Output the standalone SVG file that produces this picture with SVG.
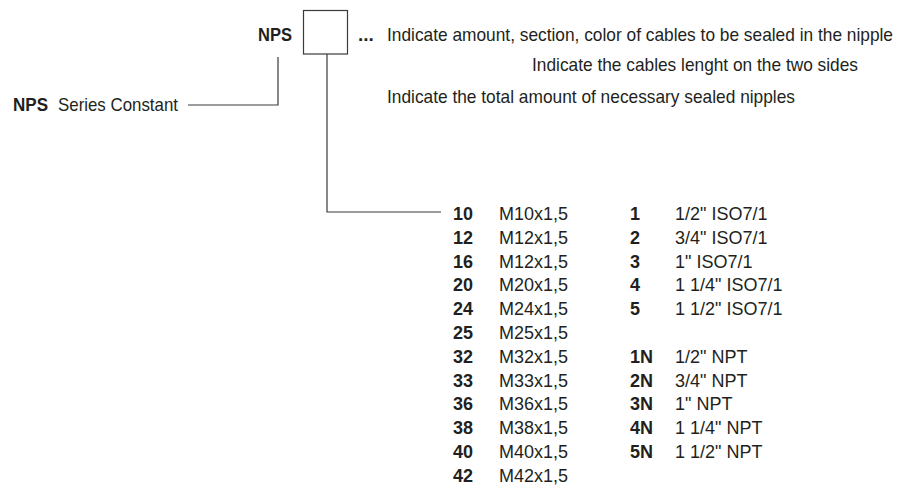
<svg xmlns="http://www.w3.org/2000/svg" width="900" height="487" viewBox="0 0 900 487">
<style>
.t{font-family:"Liberation Sans",Arial,sans-serif;fill:#231f20;}
.b{font-weight:bold;}
.u{font-size:19px;}
.tb{font-size:18px;}
.ln{fill:none;stroke:#3a3a3a;stroke-width:1.2;}
</style>
<rect width="900" height="487" fill="#ffffff"/>
<g id="connectors">
<polyline class="ln" points="278,57 278,105 188,105"/>
<polyline class="ln" points="327,54 327,212 441,212"/>
</g>
<g id="node-code">
<text class="t b u" x="258" y="41" textLength="34" lengthAdjust="spacingAndGlyphs">NPS</text>
<rect class="ln" x="303.5" y="10.5" width="44" height="43.5" fill="#ffffff"/>
</g>
<g id="node-notes">
<text class="t b u" x="358" y="41">...</text>
<text class="t u" x="387" y="41" textLength="506" lengthAdjust="spacingAndGlyphs">Indicate amount, section, color of cables to be sealed in the nipple</text>
<text class="t u" x="532" y="71" textLength="326" lengthAdjust="spacingAndGlyphs">Indicate the cables lenght on the two sides</text>
<text class="t u" x="387" y="103" textLength="408" lengthAdjust="spacingAndGlyphs">Indicate the total amount of necessary sealed nipples</text>
</g>
<g id="node-constant">
<text class="t b u" x="13" y="111" textLength="35" lengthAdjust="spacingAndGlyphs">NPS</text>
<text class="t u" x="58" y="111" textLength="120" lengthAdjust="spacingAndGlyphs">Series Constant</text>
</g>
<g id="node-threads" class="t tb">
<g class="b">
<text x="453" y="220">10</text>
<text x="453" y="243.8">12</text>
<text x="453" y="267.6">16</text>
<text x="453" y="291.4">20</text>
<text x="453" y="315.2">24</text>
<text x="453" y="339">25</text>
<text x="453" y="362.8">32</text>
<text x="453" y="386.6">33</text>
<text x="453" y="410.4">36</text>
<text x="453" y="434.2">38</text>
<text x="453" y="458">40</text>
<text x="453" y="481.8">42</text>
</g>
<text x="499" y="220">M10x1,5</text>
<text x="499" y="243.8">M12x1,5</text>
<text x="499" y="267.6">M12x1,5</text>
<text x="499" y="291.4">M20x1,5</text>
<text x="499" y="315.2">M24x1,5</text>
<text x="499" y="339">M25x1,5</text>
<text x="499" y="362.8">M32x1,5</text>
<text x="499" y="386.6">M33x1,5</text>
<text x="499" y="410.4">M36x1,5</text>
<text x="499" y="434.2">M38x1,5</text>
<text x="499" y="458">M40x1,5</text>
<text x="499" y="481.8">M42x1,5</text>
</g>
<g id="node-gas" class="t tb">
<g class="b">
<text x="630" y="220">1</text>
<text x="630" y="243.8">2</text>
<text x="630" y="267.6">3</text>
<text x="630" y="291.4">4</text>
<text x="630" y="315.2">5</text>
<text x="630" y="362.8">1N</text>
<text x="630" y="386.6">2N</text>
<text x="630" y="410.4">3N</text>
<text x="630" y="434.2">4N</text>
<text x="630" y="458">5N</text>
</g>
<text x="675" y="220">1/2" ISO7/1</text>
<text x="675" y="243.8">3/4" ISO7/1</text>
<text x="675" y="267.6">1" ISO7/1</text>
<text x="675" y="291.4">1 1/4" ISO7/1</text>
<text x="675" y="315.2">1 1/2" ISO7/1</text>
<text x="675" y="362.8">1/2" NPT</text>
<text x="675" y="386.6">3/4" NPT</text>
<text x="675" y="410.4">1" NPT</text>
<text x="675" y="434.2">1 1/4" NPT</text>
<text x="675" y="458">1 1/2" NPT</text>
</g>
</svg>
